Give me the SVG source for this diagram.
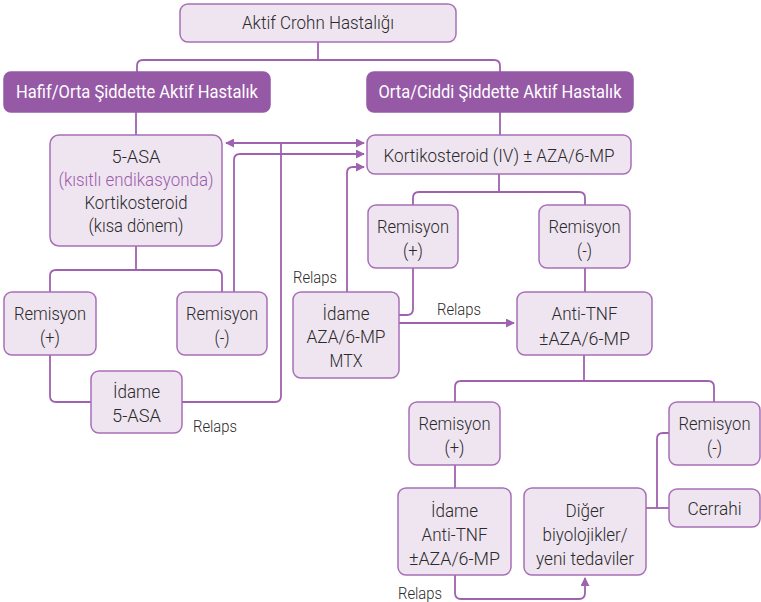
<svg xmlns="http://www.w3.org/2000/svg" width="761" height="602" viewBox="0 0 761 602">
  <defs>
    <marker id="arrow" viewBox="0 0 10 10" refX="9" refY="5" markerWidth="9" markerHeight="9" markerUnits="userSpaceOnUse" orient="auto-start-reverse">
      <path d="M0,0 L10,5 L0,10 Z" fill="#9f62af"/>
    </marker>
    <style>
      .box { fill: #efe5f1; stroke: #a86fb6; stroke-width: 1.5; }
      .dark { fill: #9659a6; stroke: #9659a6; stroke-width: 1.5; }
      .t { font-family: Roboto, "Liberation Sans", sans-serif; font-weight: 300; font-size: 18.5px; fill: #2a2a2a; text-anchor: middle; }
      .w { fill: #ffffff; font-weight: 400; }
      .p { fill: #9b5dab; }
      .lbl { font-family: Roboto, "Liberation Sans", sans-serif; font-weight: 300; font-size: 16px; fill: #2a2a2a; }
      .c { fill: none; stroke: #9f62af; stroke-width: 1.8; }
    </style>
  </defs>
  <rect width="761" height="602" fill="#ffffff"/>

  <!-- connectors -->
  <g id="connectors">
    <path class="c" d="M318,42 V60"/>
    <path class="c" d="M137,72 V66 Q137,60 143,60 H494 Q500,60 500,66 V72"/>
    <path class="c" d="M136,112 V135"/>
    <path class="c" d="M500,112 V135"/>
    <path class="c" d="M136,246 V270"/>
    <path class="c" d="M50,292 V276 Q50,270 56,270 H216 Q222,270 222,276 V292"/>
    <path class="c" d="M234,292 V160 Q234,154 240,154 H364" marker-end="url(#arrow)"/>
    <path class="c" d="M226,143 H364" marker-start="url(#arrow)" marker-end="url(#arrow)"/>
    <path class="c" d="M182,402 H275 Q281,402 281,396 V143"/>
    <path class="c" d="M50,355 V396 Q50,402 56,402 H91"/>
    <path class="c" d="M347,292 V173 Q347,167 353,167 H364" marker-end="url(#arrow)"/>
    <path class="c" d="M499,174 V192"/>
    <path class="c" d="M413,205 V198 Q413,192 419,192 H579 Q585,192 585,198 V205"/>
    <path class="c" d="M413,268 V309 Q413,315 407,315 H399"/>
    <path class="c" d="M399,323 H514" marker-end="url(#arrow)"/>
    <path class="c" d="M585,268 V292"/>
    <path class="c" d="M584,355 V381"/>
    <path class="c" d="M455,402 V387 Q455,381 461,381 H708 Q714,381 714,387 V402"/>
    <path class="c" d="M455,465 V488"/>
    <path class="c" d="M669,433 H663 Q657,433 657,439 V508"/>
    <path class="c" d="M646,508 H669"/>
    <path class="c" d="M455,575 V593 Q455,599 461,599 H579 Q585,599 585,593 V578" marker-end="url(#arrow)"/>
    <text class="lbl" x="293" y="283" textLength="44" lengthAdjust="spacingAndGlyphs">Relaps</text>
    <text class="lbl" x="437" y="315" textLength="44" lengthAdjust="spacingAndGlyphs">Relaps</text>
    <text class="lbl" x="193" y="432" textLength="44" lengthAdjust="spacingAndGlyphs">Relaps</text>
    <text class="lbl" x="398" y="599" textLength="44" lengthAdjust="spacingAndGlyphs">Relaps</text>
  </g>

  <g id="aktif-crohn">
    <rect class="box" x="180" y="4" width="276" height="38" rx="8"/>
    <text class="t" x="318" y="29" textLength="152" lengthAdjust="spacingAndGlyphs">Aktif Crohn Hastalığı</text>
  </g>

  <g id="hafif-orta">
    <rect class="dark" x="4" y="72" width="266" height="40" rx="7"/>
    <text class="t w" x="137" y="98" textLength="242" lengthAdjust="spacingAndGlyphs">Hafif/Orta Şiddette Aktif Hastalık</text>
  </g>

  <g id="orta-ciddi">
    <rect class="dark" x="367" y="72" width="266" height="40" rx="7"/>
    <text class="t w" x="500" y="98" textLength="243" lengthAdjust="spacingAndGlyphs">Orta/Ciddi Şiddette Aktif Hastalık</text>
  </g>

  <g id="asa-tedavi">
    <rect class="box" x="50" y="135" width="172" height="111" rx="9"/>
    <text class="t" x="136" y="163" textLength="49" lengthAdjust="spacingAndGlyphs">5-ASA</text>
    <text class="t p" x="136" y="186" textLength="155" lengthAdjust="spacingAndGlyphs">(kısıtlı endikasyonda)</text>
    <text class="t" x="136" y="209" textLength="103" lengthAdjust="spacingAndGlyphs">Kortikosteroid</text>
    <text class="t" x="136" y="232" textLength="95" lengthAdjust="spacingAndGlyphs">(kısa dönem)</text>
  </g>

  <g id="kortikosteroid-iv">
    <rect class="box" x="367" y="135" width="264" height="39" rx="8"/>
    <text class="t" x="499" y="162" textLength="231" lengthAdjust="spacingAndGlyphs">Kortikosteroid (IV) ± AZA/6-MP</text>
  </g>

  <g id="remisyon-pos-1">
    <rect class="box" x="4" y="292" width="92" height="63" rx="8"/>
    <text class="t" x="50" y="320" textLength="72" lengthAdjust="spacingAndGlyphs">Remisyon</text>
    <text class="t" x="50" y="344" textLength="20" lengthAdjust="spacingAndGlyphs">(+)</text>
  </g>

  <g id="remisyon-neg-1">
    <rect class="box" x="177" y="292" width="90" height="63" rx="8"/>
    <text class="t" x="222" y="320" textLength="72" lengthAdjust="spacingAndGlyphs">Remisyon</text>
    <text class="t" x="222" y="344" textLength="15" lengthAdjust="spacingAndGlyphs">(-)</text>
  </g>

  <g id="idame-asa">
    <rect class="box" x="91" y="371" width="91" height="62" rx="8"/>
    <text class="t" x="136.5" y="398" textLength="47" lengthAdjust="spacingAndGlyphs">İdame</text>
    <text class="t" x="136.5" y="422" textLength="49" lengthAdjust="spacingAndGlyphs">5-ASA</text>
  </g>

  <g id="remisyon-pos-2">
    <rect class="box" x="368" y="205" width="90" height="63" rx="8"/>
    <text class="t" x="413" y="233" textLength="72" lengthAdjust="spacingAndGlyphs">Remisyon</text>
    <text class="t" x="413" y="257" textLength="20" lengthAdjust="spacingAndGlyphs">(+)</text>
  </g>

  <g id="remisyon-neg-2">
    <rect class="box" x="539" y="205" width="91" height="63" rx="8"/>
    <text class="t" x="584.5" y="233" textLength="72" lengthAdjust="spacingAndGlyphs">Remisyon</text>
    <text class="t" x="584.5" y="257" textLength="15" lengthAdjust="spacingAndGlyphs">(-)</text>
  </g>

  <g id="idame-aza">
    <rect class="box" x="293" y="292" width="106" height="86" rx="8"/>
    <text class="t" x="346" y="320" textLength="47" lengthAdjust="spacingAndGlyphs">İdame</text>
    <text class="t" x="346" y="343" textLength="79" lengthAdjust="spacingAndGlyphs">AZA/6-MP</text>
    <text class="t" x="346" y="367" textLength="33" lengthAdjust="spacingAndGlyphs">MTX</text>
  </g>

  <g id="anti-tnf">
    <rect class="box" x="517" y="292" width="135" height="63" rx="8"/>
    <text class="t" x="584.5" y="320" textLength="66" lengthAdjust="spacingAndGlyphs">Anti-TNF</text>
    <text class="t" x="584.5" y="345" textLength="91" lengthAdjust="spacingAndGlyphs">±AZA/6-MP</text>
  </g>

  <g id="remisyon-pos-3">
    <rect class="box" x="409" y="402" width="91" height="63" rx="8"/>
    <text class="t" x="454.5" y="430" textLength="72" lengthAdjust="spacingAndGlyphs">Remisyon</text>
    <text class="t" x="454.5" y="454" textLength="20" lengthAdjust="spacingAndGlyphs">(+)</text>
  </g>

  <g id="remisyon-neg-3">
    <rect class="box" x="669" y="402" width="91" height="63" rx="8"/>
    <text class="t" x="714.5" y="430" textLength="72" lengthAdjust="spacingAndGlyphs">Remisyon</text>
    <text class="t" x="714.5" y="454" textLength="15" lengthAdjust="spacingAndGlyphs">(-)</text>
  </g>

  <g id="idame-anti-tnf">
    <rect class="box" x="398" y="488" width="113" height="87" rx="8"/>
    <text class="t" x="454.5" y="517" textLength="47" lengthAdjust="spacingAndGlyphs">İdame</text>
    <text class="t" x="454.5" y="541" textLength="66" lengthAdjust="spacingAndGlyphs">Anti-TNF</text>
    <text class="t" x="454.5" y="565" textLength="91" lengthAdjust="spacingAndGlyphs">±AZA/6-MP</text>
  </g>

  <g id="diger-biyolojikler">
    <rect class="box" x="524" y="488" width="122" height="87" rx="8"/>
    <text class="t" x="585" y="517" textLength="39" lengthAdjust="spacingAndGlyphs">Diğer</text>
    <text class="t" x="585" y="541" textLength="85" lengthAdjust="spacingAndGlyphs">biyolojikler/</text>
    <text class="t" x="585" y="565" textLength="98" lengthAdjust="spacingAndGlyphs">yeni tedaviler</text>
  </g>

  <g id="cerrahi">
    <rect class="box" x="669" y="489" width="91" height="38" rx="8"/>
    <text class="t" x="714.5" y="515" textLength="54" lengthAdjust="spacingAndGlyphs">Cerrahi</text>
  </g>
</svg>
